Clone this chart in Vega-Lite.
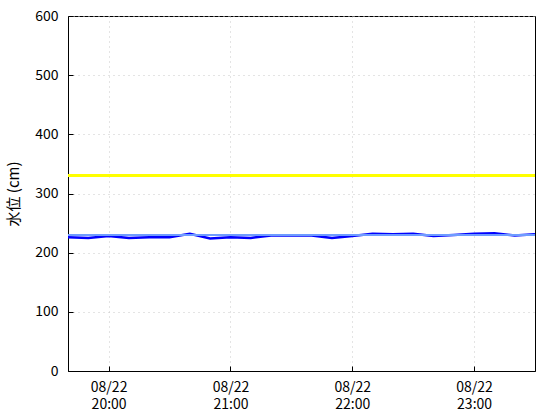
{
  "$schema": "https://vega.github.io/schema/vega-lite/v6.json",
  "width": 467,
  "height": 355,
  "autosize": {"type": "none"},
  "padding": {"left": 68, "top": 16, "right": 25, "bottom": 49},
  "background": "white",
  "config": {
    "view": {"stroke": "black", "strokeWidth": 1},
    "axis": {
      "domainColor": "black",
      "tickColor": "black",
      "labelColor": "black",
      "titleColor": "black",
      "gridColor": "#c8c8c8",
      "gridDash": [1, 4],
      "gridWidth": 1,
      "labelFont": "Noto Sans CJK JP",
      "titleFont": "Noto Sans CJK JP",
      "titleFontWeight": "normal"
    }
  },
  "data": {
    "values": [
      {"time": "2024-08-22T19:40:00", "level": 226},
      {"time": "2024-08-22T19:50:00", "level": 225},
      {"time": "2024-08-22T20:00:00", "level": 228},
      {"time": "2024-08-22T20:10:00", "level": 225},
      {"time": "2024-08-22T20:20:00", "level": 226},
      {"time": "2024-08-22T20:30:00", "level": 226},
      {"time": "2024-08-22T20:40:00", "level": 232},
      {"time": "2024-08-22T20:50:00", "level": 224},
      {"time": "2024-08-22T21:00:00", "level": 226},
      {"time": "2024-08-22T21:10:00", "level": 225},
      {"time": "2024-08-22T21:20:00", "level": 229},
      {"time": "2024-08-22T21:30:00", "level": 229},
      {"time": "2024-08-22T21:40:00", "level": 229},
      {"time": "2024-08-22T21:50:00", "level": 225},
      {"time": "2024-08-22T22:00:00", "level": 228},
      {"time": "2024-08-22T22:10:00", "level": 232},
      {"time": "2024-08-22T22:20:00", "level": 231},
      {"time": "2024-08-22T22:30:00", "level": 232},
      {"time": "2024-08-22T22:40:00", "level": 228},
      {"time": "2024-08-22T22:50:00", "level": 230},
      {"time": "2024-08-22T23:00:00", "level": 232},
      {"time": "2024-08-22T23:10:00", "level": 233},
      {"time": "2024-08-22T23:20:00", "level": 229},
      {"time": "2024-08-22T23:30:00", "level": 231}
    ]
  },
  "layer": [
    {
      "mark": {"type": "line", "color": "#0000ff", "strokeWidth": 2.5},
      "encoding": {
        "x": {"field": "time", "type": "temporal",
          "axis": {"title": null, "tickCount": 4, "tickSize": -5, "labelPadding": 14, "labelFontSize": 14, "labelBaseline": "top", "labelLineHeight": 17,
            "labelExpr": "[timeFormat(datum.value, '%m/%d'), timeFormat(datum.value, '%H:%M')]"}},
        "y": {"field": "level", "type": "quantitative", "scale": {"domain": [0, 600]},
          "axis": {"title": "水位 (cm)", "titleFontSize": 15, "titlePadding": 13, "tickSize": -5, "labelPadding": 15, "labelFontSize": 14, "tickCount": 6}}
      }
    },
    {
      "mark": {"type": "rule", "color": "#ffff00", "strokeWidth": 2},
      "encoding": {
        "y": {"datum": 330, "type": "quantitative"}
      }
    },
    {
      "mark": {"type": "rule", "color": "#6f9cff", "strokeWidth": 1.5},
      "encoding": {
        "y": {"datum": 230, "type": "quantitative"}
      }
    }
  ]
}
